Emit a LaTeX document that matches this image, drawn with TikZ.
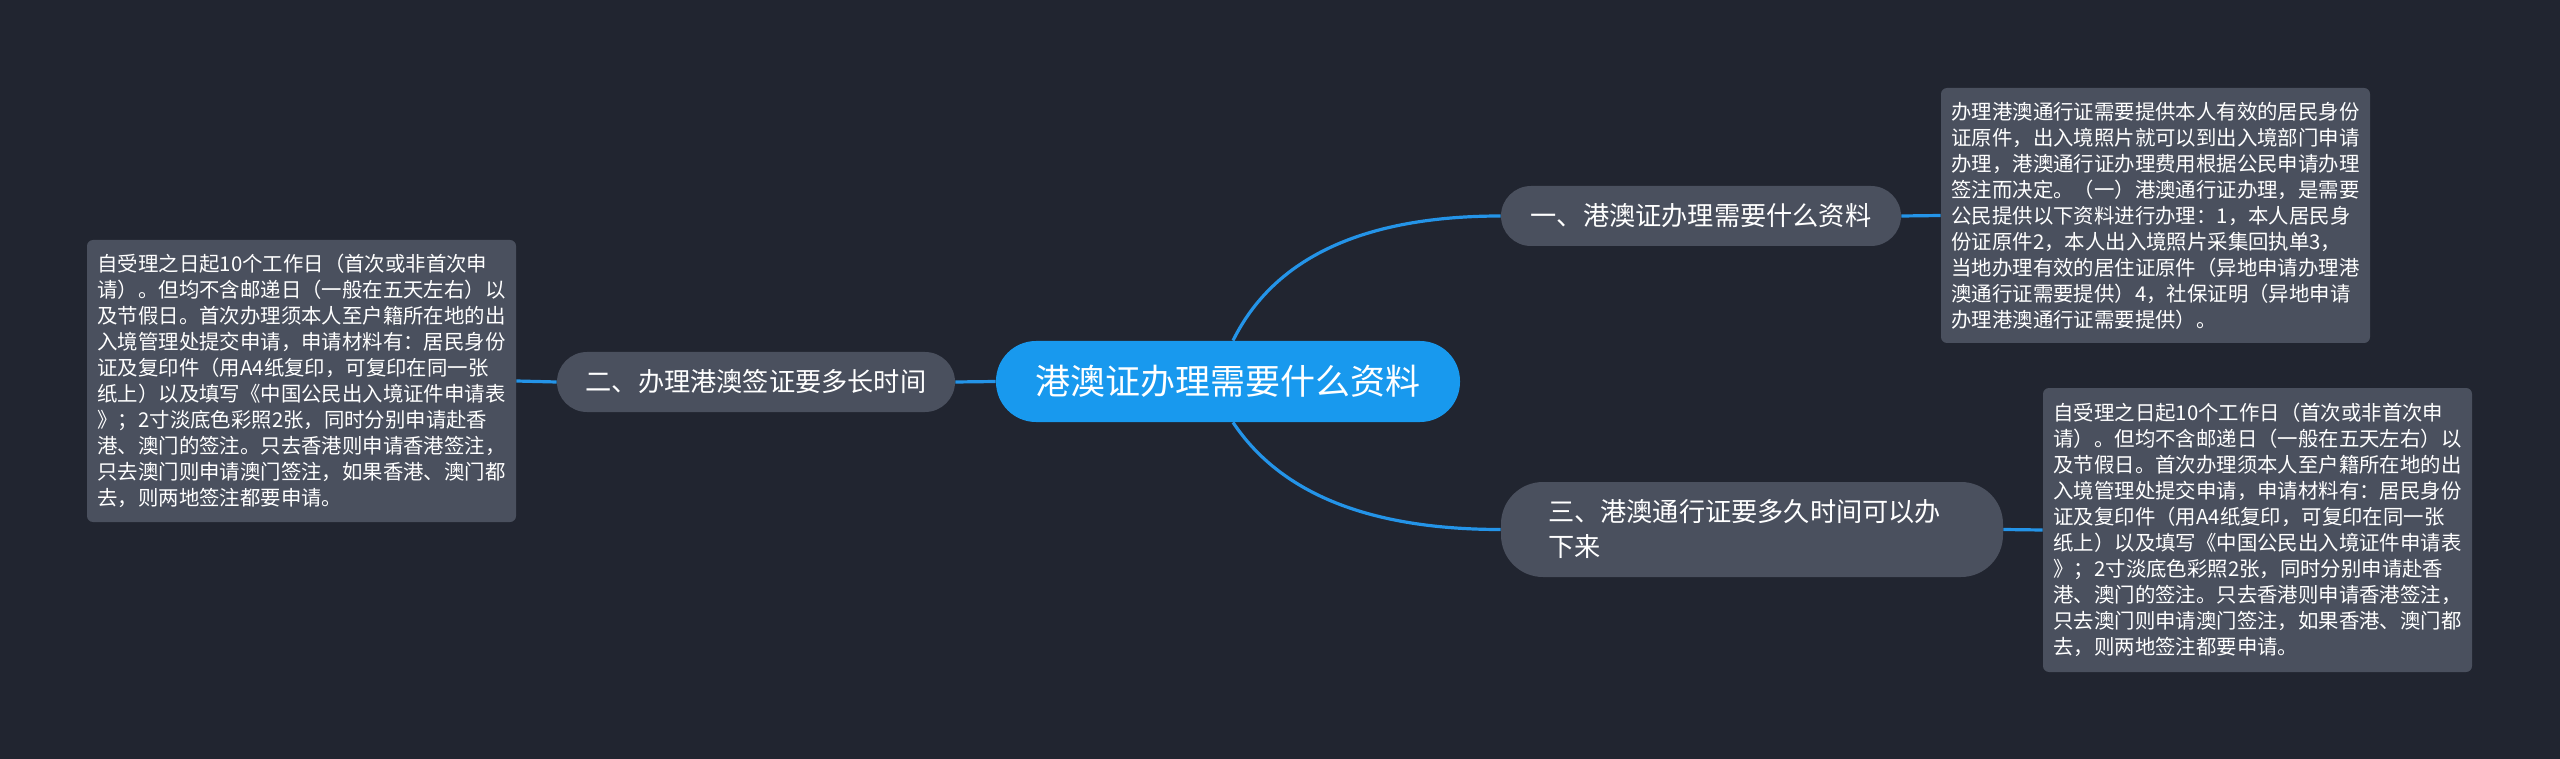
\documentclass[tikz,border=0pt]{standalone}
\usepackage{fontspec}
\setmainfont{Noto Sans CJK SC}
\usepackage{xcolor}
\usepackage{tikz}
\definecolor{mapBg}{RGB}{33,37,48}
\definecolor{mapBlue}{RGB}{24,153,238}
\definecolor{lineBlue}{RGB}{36,148,232}
\definecolor{mapGray}{RGB}{74,80,94}

\begin{document}
\begin{tikzpicture}[x=0.5pt,y=-0.5pt,
  root/.style={fill=mapBlue,text=white,rounded corners=20pt,minimum width=232pt,minimum height=40.5pt,font=\fontsize{17.5pt}{21pt}\selectfont},
  topic/.style={fill=mapGray,text=white,rounded corners=15pt,minimum height=30pt,font=\fontsize{13.1pt}{17.5pt}\selectfont},
  note/.style={fill=mapGray,text=white,rounded corners=3pt,minimum width=214.5pt,align=left,font=\fontsize{10.2pt}{13pt}\selectfont},
  link/.style={draw=lineBlue,line width=1.6pt}]
  \fill[mapBg] (0,0) rectangle (2560,759);
  \useasboundingbox (0,0) rectangle (2560,759);
  % centre and branches
  \node[root] (hub) at (1228,381.5) {港澳证办理需要什么资料};
  \node[topic,minimum width=200pt] (q1) at (1701,216) {一、港澳证办理需要什么资料};
  \node[topic,minimum width=199pt] (q2) at (756,382) {二、办理港澳签证要多长时间};
  \node[topic,minimum width=251pt,minimum height=47.5pt,rounded corners=21pt,text width=204pt,align=left] (q3) at (1752,529.5) {三、港澳通行证要多久时间可以办\\下来};
  % notes
  \node[note,minimum height=127.5pt] (a1) at (2155.5,215.5) {办理港澳通行证需要提供本人有效的居民身份\\证原件，出入境照片就可以到出入境部门申请\\办理，港澳通行证办理费用根据公民申请办理\\签注而决定。（一）港澳通行证办理，是需要\\公民提供以下资料进行办理：1，本人居民身\\份证原件2，本人出入境照片采集回执单3，\\当地办理有效的居住证原件（异地申请办理港\\澳通行证需要提供）4，社保证明（异地申请\\办理港澳通行证需要提供）。};
  \node[note,minimum height=141pt] (a2) at (301.5,381) {自受理之日起10个工作日（首次或非首次申\\请）。但均不含邮递日（一般在五天左右）以\\及节假日。首次办理须本人至户籍所在地的出\\入境管理处提交申请，申请材料有：居民身份\\证及复印件（用A4纸复印，可复印在同一张\\纸上）以及填写《中国公民出入境证件申请表\\》；2寸淡底色彩照2张，同时分别申请赴香\\港、澳门的签注。只去香港则申请香港签注，\\只去澳门则申请澳门签注，如果香港、澳门都\\去，则两地签注都要申请。};
  \node[note,minimum height=142pt] (a3) at (2257.5,530) {自受理之日起10个工作日（首次或非首次申\\请）。但均不含邮递日（一般在五天左右）以\\及节假日。首次办理须本人至户籍所在地的出\\入境管理处提交申请，申请材料有：居民身份\\证及复印件（用A4纸复印，可复印在同一张\\纸上）以及填写《中国公民出入境证件申请表\\》；2寸淡底色彩照2张，同时分别申请赴香\\港、澳门的签注。只去香港则申请香港签注，\\只去澳门则申请澳门签注，如果香港、澳门都\\去，则两地签注都要申请。};
  % connectors
  \draw[link] ([xshift=2.5pt]hub.north) .. controls +(41,-83) and +(-137,0) .. (q1.west);
  \draw[link] ([xshift=2.5pt]hub.south) .. controls +(48,72) and +(-130,0) .. (q3.west);
  \draw[link] (hub.west) -- (q2.east);
  \draw[link] (q2.west) -- (a2.east);
  \draw[link] (q1.east) -- (a1.west);
  \draw[link] (q3.east) -- (a3.west);
\end{tikzpicture}
\end{document}
